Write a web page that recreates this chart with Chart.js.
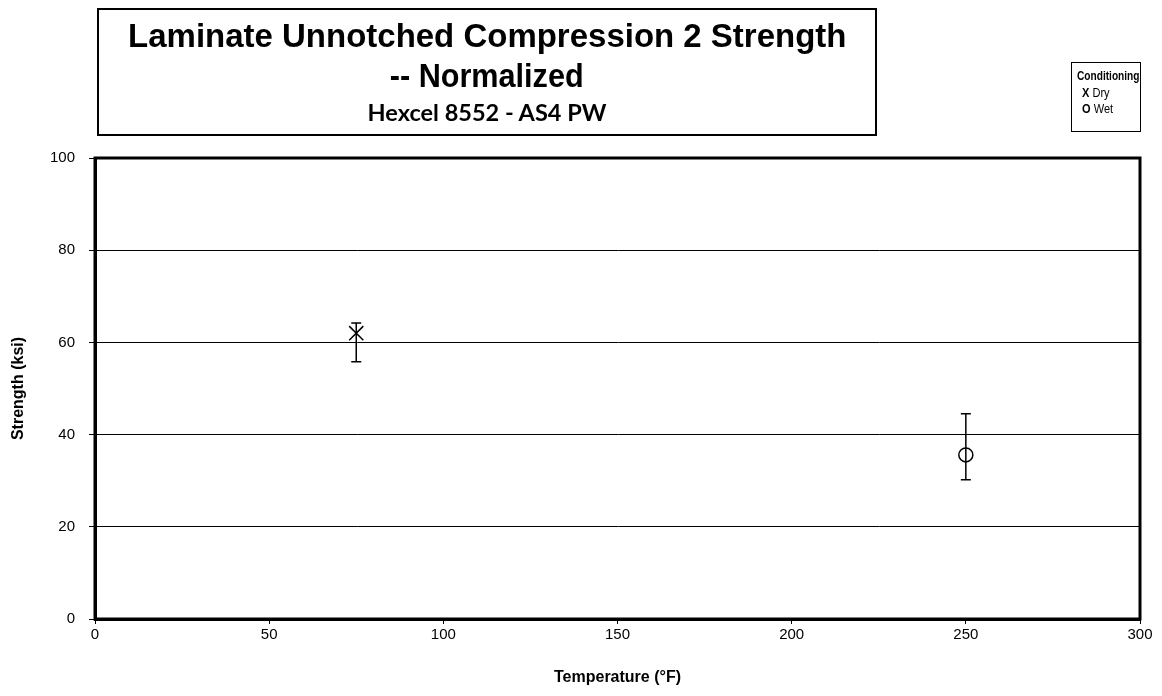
<!DOCTYPE html>
<html>
<head>
<meta charset="utf-8">
<script src="https://cdn.jsdelivr.net/npm/chart.js@4"></script>
<style>
  html, body { margin: 0; padding: 0; background: #fff; }
  #wrap { position: relative; width: 1162px; height: 696px; }
  #titleBox {
    position: absolute; left: 97px; top: 8px; width: 776px; height: 124px;
    border: 2px solid #000; text-align: center; color: #000;
    font-family: "Liberation Sans", Arial, sans-serif;
  }
  .tl { position: absolute; left: 0; right: 0; text-align: center; white-space: nowrap; }
  .tl span { display: inline-block; transform-origin: 50% 50%; }
  #t1 { top: 5px; font-size: 34px; font-weight: bold; line-height: 40px; }
  #t2 { top: 45px; font-size: 34px; font-weight: bold; line-height: 40px; }
  #t1 span { transform: scaleX(0.97); }
  #t2 span { transform: scaleX(0.9); }
  #t3 { top: 88px; font-size: 23.5px; font-weight: bold; line-height: 28px; font-family: Lato, "Open Sans", sans-serif; }
  #legendBox {
    position: absolute; left: 1071px; top: 62px; width: 68px; height: 68px;
    border: 1px solid #000; font-family: "Liberation Sans", Arial, sans-serif; color: #000;
  }
  #legendBox div { position: absolute; white-space: nowrap; transform-origin: 0 50%; }
  #legendBox .h { left: 5px; top: 5px; font-size: 13px; font-weight: bold; transform: scaleX(0.78); }
  #legendBox .r1 { left: 10px; top: 22px; font-size: 13px; transform: scaleX(0.85); }
  #legendBox .r2 { left: 10px; top: 38px; font-size: 13px; transform: scaleX(0.85); }
  canvas { position: absolute; left: 0; top: 0; }
</style>
</head>
<body>
<div id="wrap">
  <canvas id="c" width="1162" height="696"></canvas>
  <div id="titleBox">
    <div id="t1" class="tl"><span>Laminate Unnotched Compression 2 Strength</span></div>
    <div id="t2" class="tl"><span>-- Normalized</span></div>
    <div id="t3" class="tl"><span>Hexcel 8552 - AS4 PW</span></div>
  </div>
  <div id="legendBox">
    <div class="h">Conditioning</div>
    <div class="r1"><b>X</b> Dry</div>
    <div class="r2"><b>O</b> Wet</div>
  </div>
</div>
<script>
// ---- data ----
const dryTemps = [75];
const dryMean = [62.0];
const dryMin = [55.8];
const dryMax = [64.2];

const wetTemps = [250];
const wetMean = [35.6];
const wetMin = [30.2];
const wetMax = [44.5];

const xTicks = [0, 50, 100, 150, 200, 250, 300];
const yTicks = [0, 20, 40, 60, 80, 100];

function toPoints(xs, ys, lo, hi) {
  return xs.map((x, i) => ({ x: x, y: ys[i], lo: lo[i], hi: hi[i] }));
}

const errorBarPlugin = {
  id: 'errorBars',
  afterDatasetsDraw(chart) {
    const ctx = chart.ctx;
    const xs = chart.scales.x, ys = chart.scales.y;
    ctx.save();
    ctx.strokeStyle = '#000';
    ctx.lineWidth = 1.5;
    chart.data.datasets.forEach(ds => {
      ds.data.forEach(p => {
        const px = xs.getPixelForValue(p.x);
        const pLo = ys.getPixelForValue(p.lo);
        const pHi = ys.getPixelForValue(p.hi);
        ctx.beginPath();
        ctx.moveTo(px, pLo); ctx.lineTo(px, pHi);
        ctx.moveTo(px - 5, pLo); ctx.lineTo(px + 5, pLo);
        ctx.moveTo(px - 5, pHi); ctx.lineTo(px + 5, pHi);
        ctx.stroke();
      });
    });
    ctx.restore();
  }
};

const framePlugin = {
  id: 'frame',
  afterDraw(chart) {
    const a = chart.chartArea, ctx = chart.ctx;
    ctx.save();
    ctx.strokeStyle = '#000';
    ctx.lineWidth = 3;
    ctx.strokeRect(a.left, a.top, a.right - a.left, a.bottom - a.top);
    ctx.restore();
  }
};

new Chart(document.getElementById('c'), {
  type: 'scatter',
  data: {
    datasets: [
      {
        label: 'Dry',
        data: toPoints(dryTemps, dryMean, dryMin, dryMax),
        pointStyle: 'crossRot',
        pointRadius: 10,
        borderColor: '#000',
        backgroundColor: '#000',
        borderWidth: 1.5
      },
      {
        label: 'Wet',
        data: toPoints(wetTemps, wetMean, wetMin, wetMax),
        pointStyle: 'circle',
        pointRadius: 7,
        borderColor: '#000',
        backgroundColor: '#fff',
        borderWidth: 1.5
      }
    ]
  },
  options: {
    responsive: false,
    animation: false,
    devicePixelRatio: 1,
    layout: { padding: { top: 158, left: 0, right: 22, bottom: 0 } },
    plugins: { legend: { display: false }, tooltip: { enabled: false }, title: { display: false } },
    scales: {
      x: {
        type: 'linear', min: 0, max: 300,
        afterBuildTicks(scale) { scale.ticks = xTicks.map(v => ({ value: v })); },
        afterFit(scale) { scale.height = 77; },
        grid: { drawOnChartArea: false, drawTicks: true, tickLength: 5, color: '#000', lineWidth: 1 },
        border: { display: true, color: '#000', width: 3 },
        ticks: { color: '#000', font: { family: 'Liberation Sans', size: 15 }, padding: 2, maxRotation: 0 },
        title: { display: true, text: 'Temperature (°F)', color: '#000', font: { family: 'Liberation Sans', size: 16, weight: 'bold' }, padding: { top: 0, bottom: 9 } }
      },
      y: {
        type: 'linear', min: 0, max: 100,
        afterBuildTicks(scale) { scale.ticks = yTicks.map(v => ({ value: v })); },
        afterFit(scale) { scale.width = 95; },
        grid: { drawOnChartArea: true, drawTicks: true, tickLength: 6, color: '#000', lineWidth: 1 },
        border: { display: true, color: '#000', width: 3 },
        ticks: { color: '#000', font: { family: 'Liberation Sans', size: 15 }, padding: 14 },
        title: { display: true, text: 'Strength (ksi)', color: '#000', font: { family: 'Liberation Sans', size: 16, weight: 'bold' }, padding: { top: 9, bottom: 0 } }
      }
    }
  },
  plugins: [errorBarPlugin, framePlugin]
});
</script>
</body>
</html>
